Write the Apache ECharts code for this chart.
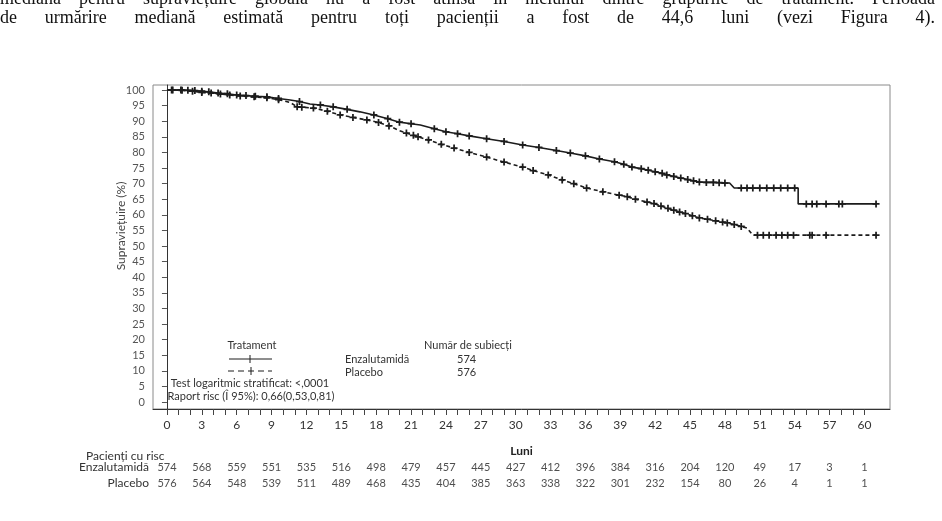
<!DOCTYPE html>
<html>
<head>
<meta charset="utf-8">
<script src="https://cdn.jsdelivr.net/npm/echarts@6/dist/echarts.min.js"></script>
<style>
  html, body { margin: 0; padding: 0; background: #fff; }
  #wrap { position: relative; width: 942px; height: 521px; overflow: hidden; }
  #main { position: absolute; left: 0; top: 0; width: 942px; height: 521px; }
  .para { position: absolute; left: 0; width: 935px; font-family: "Liberation Serif", "DejaVu Serif", serif;
          font-size: 18px; line-height: 20px; color: #111; text-align: justify; text-align-last: justify;
          white-space: nowrap; z-index: 2; }
</style>
</head>
<body>
<div id="wrap">
  <div class="para" style="top:-12px">mediana pentru supraviețuire globală nu a fost atinsă în niciunul dintre grupurile de tratament. Perioada</div>
  <div class="para" style="top:7px">de urmărire mediană estimată pentru toți pacienții a fost de 44,6 luni (vezi Figura 4).</div>
  <div id="main"></div>
</div>
<script>
// curbe Kaplan-Meier: luni, supravietuire (%), cenzurat (1 = +)
var enzaTime = [0,0.4,1.2,1.8,2.4,3.0,3.6,4.4,5.2,6.0,6.8,7.6,8.6,9.6,10.6,11.4,12.3,13.2,14.3,15.5,16.6,17.8,19.0,20.0,21.0,21.8,23.0,24.0,25.0,26.0,27.5,29.0,30.6,32.0,33.5,34.7,36.0,37.2,38.5,39.3,40.0,40.8,41.4,42.0,42.6,43.0,43.6,44.2,44.8,45.3,45.8,46.4,47.0,47.5,48.0,48.4,48.8,49.4,49.9,50.4,51.0,51.6,52.2,52.8,53.4,54.0,54.3,54.3,55.0,55.5,55.9,56.7,57.8,58.1,61.0];
var enzaSurv = [100,100,100,99.9,99.8,99.6,99.4,99.0,98.8,98.4,98.2,98.0,97.8,97.3,96.8,96.3,95.5,95.2,94.6,93.8,93.0,92.0,90.8,89.7,89.2,88.8,87.6,86.6,86.0,85.3,84.4,83.5,82.4,81.6,80.6,79.8,78.9,77.9,77.0,76.2,75.3,74.8,74.3,73.8,73.3,72.8,72.3,71.8,71.3,70.9,70.5,70.4,70.4,70.3,70.2,70.2,68.6,68.6,68.6,68.6,68.6,68.6,68.6,68.6,68.6,68.6,68.6,63.5,63.5,63.5,63.5,63.5,63.5,63.5,63.5];
var enzaCens = [0,1,1,1,1,1,1,1,1,1,1,1,1,1,0,1,0,1,1,1,0,1,1,1,1,0,1,1,1,1,1,1,1,1,1,1,1,1,1,1,1,1,1,1,1,1,1,1,1,1,1,1,1,1,1,0,0,1,1,1,1,1,1,1,1,1,0,0,1,1,1,1,1,1,1];

var placTime = [0,0.5,1.3,2.2,3.0,3.8,4.6,5.4,6.3,7.5,8.6,9.6,10.6,11.2,11.6,12.6,13.8,14.9,16.0,17.2,18.2,19.1,20.0,20.6,21.2,21.6,22.5,23.6,24.7,26.0,27.5,29.0,30.6,31.5,32.8,34.0,35.0,36.1,37.5,38.9,39.6,40.3,41.3,41.9,42.5,43.1,43.6,44.1,44.6,45.2,45.8,46.5,47.2,47.8,48.2,48.8,49.4,49.9,50.4,50.8,51.3,51.8,52.4,52.9,53.4,53.9,55.3,55.5,56.7,61.0];
var placSurv = [100,100,99.9,99.6,99.2,99.0,98.7,98.4,98.1,97.8,97.5,96.9,96.0,94.6,94.5,94.2,93.2,92.0,91.2,90.4,89.6,88.5,87.0,86.2,85.5,85.0,84.0,82.6,81.4,80.0,78.5,76.9,75.3,74.2,72.8,71.2,70.0,68.6,67.4,66.3,65.8,65.0,64.1,63.6,62.8,62.1,61.5,60.9,60.4,59.7,59.0,58.6,58.1,57.7,57.4,56.9,56.3,55.8,53.5,53.5,53.5,53.5,53.5,53.5,53.5,53.5,53.5,53.5,53.5,53.5];
var placCens = [0,1,1,1,1,1,1,1,1,1,1,1,0,1,1,1,1,1,1,1,1,1,0,1,1,1,1,1,1,1,1,1,1,1,1,1,1,1,1,1,1,1,1,1,1,1,1,1,1,1,1,1,1,1,1,1,1,0,0,1,1,1,1,1,1,1,1,1,1,1];

// tabel pacienti cu risc
var riskTimes = [0,3,6,9,12,15,18,21,24,27,30,33,36,39,42,45,48,51,54,57,60];
var riskEnza = [574,568,559,551,535,516,498,479,457,445,427,412,396,384,316,204,120,49,17,3,1];
var riskPlac = [576,564,548,539,511,489,468,435,404,385,363,338,322,301,232,154,80,26,4,1,1];
var groups = ['Enzalutamidă', 'Placebo'];
var nSubjects = [574, 576];

var xTicks = [];
for (var i = 0; i <= 60; i++) xTicks.push(i);
var xLabels = xTicks.filter(function (v) { return v % 3 === 0; });
var yTicks = [];
for (var j = 0; j <= 100; j += 5) yTicks.push(j);

function zip(t, s, c) {
    return t.map(function (v, i) { return [v, s[i], c[i]]; });
}
var plus = 'path://M3,0h2v8h-2z M0,3h8v2h-8z';
var font = 'Lato, "Open Sans", sans-serif';
var ink = '#1c1c1c';

var myChart = echarts.init(document.getElementById('main'));

var option = {
    animation: false,
    textStyle: { fontFamily: font },
    grid: [
        { left: 153, top: 85, width: 737, height: 324, show: true, borderColor: '#8a8a8a', borderWidth: 1 },
        { left: 153, top: 459, width: 737, height: 32 }
    ],
    xAxis: [{
        type: 'value', gridIndex: 0, min: -1.2, max: 62.2,
        splitLine: { show: false },
        axisLine: { onZero: false, lineStyle: { color: '#333', width: 1 } },
        axisTick: { customValues: xTicks, length: 6, lineStyle: { color: '#444' } },
        axisLabel: { customValues: xLabels, margin: 10, fontSize: 12, color: '#333' },
        name: 'Luni', nameLocation: 'middle', nameGap: 36,
        nameTextStyle: { fontWeight: 'bold', fontSize: 12, color: '#222' }
    }, {
        type: 'value', gridIndex: 1, min: -1.2, max: 62.2, show: false
    }],
    yAxis: [{
        type: 'value', gridIndex: 0, min: -2.2, max: 101.6,
        splitLine: { show: false },
        axisLine: { show: true, lineStyle: { color: '#333', width: 1 } },
        axisTick: { customValues: yTicks, length: 5, lineStyle: { color: '#555' } },
        axisLabel: { customValues: yTicks, margin: 8, fontSize: 11, color: '#555' }
    }, {
        type: 'category', gridIndex: 1, data: groups, inverse: true,
        axisLine: { show: false }, axisTick: { show: false },
        axisLabel: { margin: 4, fontSize: 12, color: '#333' }
    }],
    series: [{
        name: 'Enzalutamidă', type: 'line', xAxisIndex: 0, yAxisIndex: 0,
        data: zip(enzaTime, enzaSurv, enzaCens),
        symbol: function (v) { return v[2] ? plus : 'none'; },
        symbolSize: 7,
        itemStyle: { color: ink },
        lineStyle: { color: ink, width: 1.6 }
    }, {
        name: 'Placebo', type: 'line', xAxisIndex: 0, yAxisIndex: 0,
        data: zip(placTime, placSurv, placCens),
        symbol: function (v) { return v[2] ? plus : 'none'; },
        symbolSize: 7,
        itemStyle: { color: ink },
        lineStyle: { color: ink, width: 1.6, type: [4, 3] }
    }, {
        type: 'scatter', xAxisIndex: 1, yAxisIndex: 1, symbolSize: 2,
        itemStyle: { color: 'rgba(0,0,0,0)' },
        data: riskTimes.map(function (t, i) { return [t, groups[0], riskEnza[i]]; })
            .concat(riskTimes.map(function (t, i) { return [t, groups[1], riskPlac[i]]; })),
        label: {
            show: true, position: 'inside', fontSize: 11, color: '#222',
            formatter: function (p) { return p.value[2]; }
        }
    }],
    graphic: [
        { type: 'text', x: 121, y: 226, rotation: Math.PI / 2,
          style: { text: 'Supraviețuire (%)', font: '12px ' + font, fill: '#444', align: 'center', verticalAlign: 'middle' } },
        { type: 'text', x: 86, y: 456,
          style: { text: 'Pacienți cu risc', font: '12px ' + font, fill: '#333', verticalAlign: 'middle' } },
        { type: 'text', x: 252, y: 345,
          style: { text: 'Tratament', font: '11px ' + font, fill: '#333', align: 'center', verticalAlign: 'middle' } },
        { type: 'line', shape: { x1: 229, y1: 359, x2: 272, y2: 359 }, style: { stroke: ink, lineWidth: 1 } },
        { type: 'line', shape: { x1: 250, y1: 355, x2: 250, y2: 363 }, style: { stroke: ink, lineWidth: 1 } },
        { type: 'line', shape: { x1: 228, y1: 371, x2: 272, y2: 371 }, style: { stroke: ink, lineWidth: 1, lineDash: [6, 4] } },
        { type: 'line', shape: { x1: 251, y1: 367, x2: 251, y2: 375 }, style: { stroke: ink, lineWidth: 1 } },
        { type: 'text', x: 250, y: 383,
          style: { text: 'Test logaritmic stratificat: <,0001', font: '11px ' + font, fill: '#333', align: 'center', verticalAlign: 'middle' } },
        { type: 'text', x: 251, y: 396,
          style: { text: 'Raport risc (Î 95%): 0,66(0,53,0,81)', font: '11px ' + font, fill: '#333', align: 'center', verticalAlign: 'middle' } },
        { type: 'text', x: 424, y: 345,
          style: { text: 'Număr de subiecți', font: '11px ' + font, fill: '#333', verticalAlign: 'middle' } },
        { type: 'text', x: 345, y: 359,
          style: { text: groups[0], font: '11px ' + font, fill: '#333', verticalAlign: 'middle' } },
        { type: 'text', x: 345, y: 372,
          style: { text: groups[1], font: '11px ' + font, fill: '#333', verticalAlign: 'middle' } },
        { type: 'text', x: 457, y: 359,
          style: { text: String(nSubjects[0]), font: '11px ' + font, fill: '#333', verticalAlign: 'middle' } },
        { type: 'text', x: 457, y: 372,
          style: { text: String(nSubjects[1]), font: '11px ' + font, fill: '#333', verticalAlign: 'middle' } }
    ]
};

myChart.setOption(option);
</script>
</body>
</html>
